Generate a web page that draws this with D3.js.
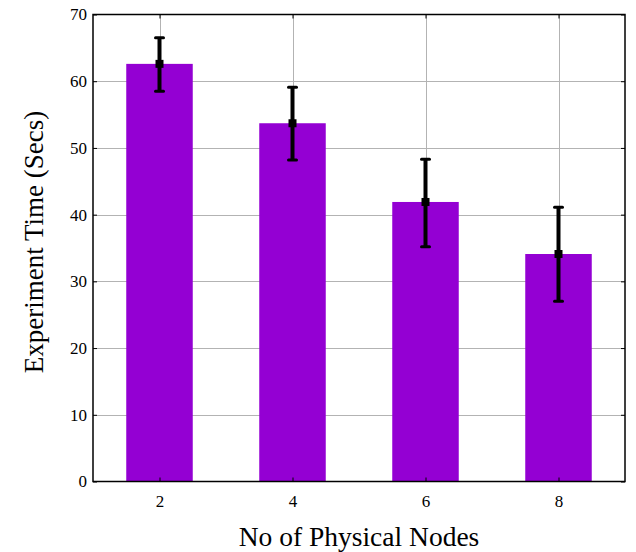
<!DOCTYPE html>
<html>
<head>
<meta charset="utf-8">
<script src="https://cdn.jsdelivr.net/npm/d3@7"></script>
<style>
  html, body { margin: 0; padding: 0; background: #fff; }
  svg { display: block; }
  text { font-family: "Liberation Serif", "DejaVu Serif", serif; fill: #000; }
</style>
</head>
<body>
<svg id="chart" width="636" height="552"></svg>
<script>
// Experiment time vs. number of physical nodes (mean with error range)
const nodes = [2, 4, 6, 8];
const meanTime = [62.6, 53.7, 41.9, 34.1];
const upperTime = [66.5, 59.1, 48.3, 41.1];
const lowerTime = [58.5, 48.2, 35.2, 27.0];
const yTicks = [0, 10, 20, 30, 40, 50, 60, 70];
const xTicks = [2, 4, 6, 8];

const svg = d3.select("#chart");
const plotLeft = 93, plotRight = 625, plotTop = 14.5, plotBottom = 481.5;

const x = d3.scaleLinear().domain([1, 9]).range([plotLeft, plotRight]);
const y = d3.scaleLinear().domain([0, 70]).range([plotBottom, plotTop]);
const barWidth = 1.0; // in x units

const data = nodes.map((n, i) => ({ n, mean: meanTime[i], hi: upperTime[i], lo: lowerTime[i] }));

// Grid lines
const grid = svg.append("g").attr("stroke", "#b3b3b3").attr("stroke-width", 1);
grid.selectAll(".gy").data(yTicks.slice(1, -1)).join("line")
  .attr("x1", plotLeft).attr("x2", plotRight)
  .attr("y1", d => Math.round(y(d)) + 0.5).attr("y2", d => Math.round(y(d)) + 0.5);
grid.selectAll(".gx").data(xTicks).join("line")
  .attr("y1", plotTop).attr("y2", plotBottom)
  .attr("x1", d => Math.round(x(d)) + 0.5).attr("x2", d => Math.round(x(d)) + 0.5);

// Bars
svg.append("g").selectAll("rect").data(data).join("rect")
  .attr("x", d => x(d.n - barWidth / 2))
  .attr("width", d => x(d.n + barWidth / 2) - x(d.n - barWidth / 2))
  .attr("y", d => y(d.mean))
  .attr("height", d => y(0) - y(d.mean))
  .attr("fill", "#9400d3");

// Error bars
const err = svg.append("g");
err.selectAll(".stem").data(data).join("line")
  .attr("x1", d => x(d.n)).attr("x2", d => x(d.n))
  .attr("y1", d => y(d.hi)).attr("y2", d => y(d.lo))
  .attr("stroke", "#000").attr("stroke-width", 4);
["hi", "lo"].forEach(k => {
  err.selectAll(".cap-" + k).data(data).join("line")
    .attr("x1", d => x(d.n) - 4).attr("x2", d => x(d.n) + 4)
    .attr("y1", d => y(d[k])).attr("y2", d => y(d[k]))
    .attr("stroke", "#000").attr("stroke-width", 3).attr("stroke-linecap", "round");
});
err.selectAll(".mark").data(data).join("rect")
  .attr("x", d => x(d.n) - 4).attr("y", d => y(d.mean) - 4)
  .attr("width", 8).attr("height", 8).attr("fill", "#000");

// Frame
svg.append("rect")
  .attr("x", plotLeft).attr("y", plotTop)
  .attr("width", plotRight - plotLeft).attr("height", plotBottom - plotTop)
  .attr("fill", "none").attr("stroke", "#000").attr("stroke-width", 1.5);

// Axes with inward ticks
const yAxisL = d3.axisLeft(y).tickValues(yTicks).tickSize(-4).tickPadding(6);
const gyl = svg.append("g").attr("transform", `translate(${plotLeft},0)`).call(yAxisL);
gyl.select(".domain").remove();
gyl.selectAll("text").attr("font-size", 17);

const yAxisR = d3.axisRight(y).tickValues(yTicks).tickSize(-4).tickFormat("");
const gyr = svg.append("g").attr("transform", `translate(${plotRight},0)`).call(yAxisR);
gyr.select(".domain").remove();

const xAxisB = d3.axisBottom(x).tickValues(xTicks).tickSize(-4).tickPadding(13);
const gxb = svg.append("g").attr("transform", `translate(0,${plotBottom})`).call(xAxisB);
gxb.select(".domain").remove();
gxb.selectAll("text").attr("font-size", 17);

const xAxisT = d3.axisTop(x).tickValues(xTicks).tickSize(-4).tickFormat("");
const gxt = svg.append("g").attr("transform", `translate(0,${plotTop})`).call(xAxisT);
gxt.select(".domain").remove();

svg.selectAll(".tick line").attr("stroke", "#000");

// Axis titles
svg.append("text")
  .attr("x", 359).attr("y", 546)
  .attr("text-anchor", "middle")
  .attr("font-size", 27.5)
  .text("No of Physical Nodes");

svg.append("text")
  .attr("transform", "translate(43,242) rotate(-90)")
  .attr("text-anchor", "middle")
  .attr("font-size", 27)
  .text("Experiment Time (Secs)");
</script>
</body>
</html>
